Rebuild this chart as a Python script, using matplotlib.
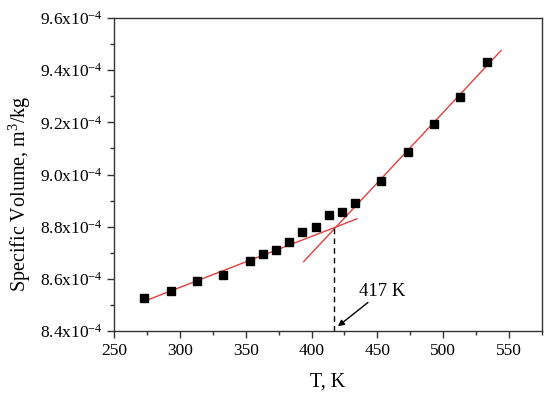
import numpy as np
import matplotlib
matplotlib.use('Agg')
import matplotlib.pyplot as plt
from matplotlib.ticker import MultipleLocator, FuncFormatter

plt.rcParams['font.family'] = ['Liberation Serif', 'DejaVu Serif']
plt.rcParams['mathtext.fontset'] = 'custom'
plt.rcParams['mathtext.rm'] = 'Liberation Serif'
plt.rcParams['mathtext.it'] = 'Liberation Serif:italic'

# temperature (K) and specific volume (x1e-4 m3/kg)
temp = [273, 293, 313, 333, 353, 363, 373, 383, 393, 403, 413, 423, 433,
        453, 473, 493, 513, 533]
vol = [8.525, 8.552, 8.590, 8.615, 8.667, 8.694, 8.709, 8.740, 8.778, 8.797,
       8.843, 8.858, 8.890, 8.977, 9.087, 9.195, 9.299, 9.431]
low_idx = slice(0, 8)     # points used for the low-T fit
high_idx = slice(12, 18)  # points used for the high-T fit
transition = 417

T = np.array(temp)
V = np.array(vol) * 1e-4

fig = plt.figure(figsize=(5.5, 3.99), dpi=100)
ax = fig.add_axes([0.2073, 0.1704, 0.7782, 0.7845])

red = '#e0403c'
p_low = np.polyfit(T[low_idx], V[low_idx], 1)
t1 = np.linspace(271, 434.5, 50)
ax.plot(t1, np.polyval(p_low, t1), color=red, lw=1.0)
p_high = np.polyfit(T[high_idx], V[high_idx], 1)
t2 = np.linspace(394, 544, 50)
ax.plot(t2, np.polyval(p_high, t2), color=red, lw=1.0)

ax.plot(T, V, 's', color='black', ms=5.2, zorder=3)

v_cross = np.polyval(p_low, transition)
ax.plot([transition, transition], [0.84e-3, v_cross], '--', color='black',
        lw=1.0, dashes=(4, 3))
ax.annotate('417 K', xy=(420, 8.418e-4), xytext=(436, 8.52e-4),
            fontsize=13.5, va='bottom', ha='left',
            arrowprops=dict(arrowstyle='-|>', color='black', lw=1.0,
                            mutation_scale=9, shrinkA=0, shrinkB=0))

ax.set_xlim(250, 575)
ax.set_ylim(8.4e-4, 9.6e-4)
ax.xaxis.set_major_locator(MultipleLocator(50))
ax.xaxis.set_minor_locator(MultipleLocator(25))
ax.yaxis.set_major_locator(MultipleLocator(0.2e-4))
ax.yaxis.set_minor_locator(MultipleLocator(0.1e-4))
ax.yaxis.set_major_formatter(FuncFormatter(
    lambda v, pos: '%.1fx10$^{\\mathregular{-4}}$' % (v * 1e4)))

ax.tick_params(which='both', direction='out', top=False, right=False,
               labelsize=12.5, color='#333333')
ax.tick_params(which='major', length=5, width=1)
ax.tick_params(which='minor', length=3, width=1)
for s in ax.spines.values():
    s.set_color('#333333')
    s.set_linewidth(1.0)

ax.set_xlabel('T, K', fontsize=14.5, labelpad=10)
ax.set_ylabel('Specific Volume, m$^{\\mathregular{3}}$/kg', fontsize=14.5)
ax.yaxis.set_label_coords(-0.19, 0.44)

fig.savefig('out.png', dpi=100)
